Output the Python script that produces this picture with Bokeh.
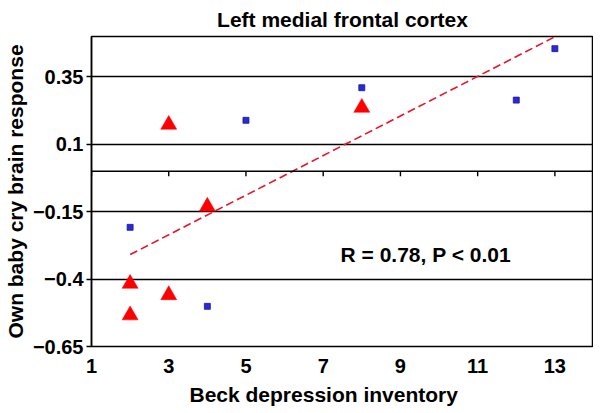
import numpy as np
from bokeh.plotting import figure
from bokeh.models import (Range1d, FixedTicker, Label, Title, Span,
                          CustomJSTickFormatter)
from bokeh.embed import file_html
from bokeh.resources import INLINE

# ---- data ----
title_text = "Left medial frontal cortex"
x_label = "Beck depression inventory"
y_label = "Own baby cry brain response"
stat_text = "R = 0.78, P < 0.01"

x_ticks = [1, 3, 5, 7, 9, 11, 13]
y_ticks = [-0.65, -0.4, -0.15, 0.1, 0.35]

tri_x = [3, 8, 4, 2, 3, 2]
tri_y = [0.173, 0.236, -0.131, -0.417, -0.459, -0.534]

sq_x = [2, 4, 5, 8, 12, 13]
sq_y = [-0.208, -0.501, 0.189, 0.310, 0.264, 0.455]

FONT = "Liberation Sans"
X0, X1 = 1, 14
Y0, Y1 = -0.65, 0.5
FRAME_W, FRAME_H = 502, 310

# ---- trend line (least squares over all points) ----
all_x = np.array(tri_x + sq_x, dtype=float)
all_y = np.array(tri_y + sq_y, dtype=float)
slope, intercept = np.polyfit(all_x, all_y, 1)
fit_x = np.array([all_x.min(), all_x.max()])
fit_y = slope * fit_x + intercept

p = figure(output_backend="svg", toolbar_location=None,
           x_range=Range1d(X0, X1), y_range=Range1d(Y0, Y1),
           frame_width=FRAME_W, frame_height=FRAME_H,
           min_border_left=0, min_border_right=0, min_border_top=0,
           min_border_bottom=0)
p.background_fill_color = "white"
p.border_fill_color = "white"
p.outline_line_color = "black"
p.outline_line_width = 1.5

# title
p.title.text = title_text
p.title.align = "center"
p.title.text_font = FONT
p.title.text_font_size = "21px"
p.title.text_font_style = "bold"
p.title.text_color = "black"
p.title.standoff = 11

# grid
p.xgrid.visible = False
p.ygrid.ticker = FixedTicker(ticks=y_ticks[1:])
p.ygrid.grid_line_color = "black"
p.ygrid.grid_line_width = 1.4

# y axis
yax = p.yaxis[0]
yax.ticker = FixedTicker(ticks=y_ticks)
yax.formatter = CustomJSTickFormatter(code="""
    const s = parseFloat(Math.abs(tick).toFixed(2)).toString();
    return tick < 0 ? "\u2212" + s : s;
""")
yax.axis_line_color = "black"
yax.axis_line_width = 1.5
yax.major_tick_out = 5
yax.major_tick_in = 0
yax.major_tick_line_color = "black"
yax.major_tick_line_width = 1.4
yax.minor_tick_line_color = None
yax.major_label_standoff = 3
yax.major_label_text_font = FONT
yax.major_label_text_font_size = "20px"
yax.major_label_text_font_style = "bold"
yax.major_label_text_color = "black"
yax.axis_label = y_label
yax.axis_label_text_font = FONT
yax.axis_label_text_font_size = "21px"
yax.axis_label_text_font_style = "bold"
yax.axis_label_text_color = "black"
yax.axis_label_standoff = 3

# x axis (labels only, at bottom)
xax = p.xaxis[0]
xax.ticker = FixedTicker(ticks=x_ticks)
xax.axis_line_color = None
xax.major_tick_line_color = None
xax.minor_tick_line_color = None
xax.major_tick_out = 0
xax.major_tick_in = 0
xax.major_label_standoff = 12
xax.major_label_text_font = FONT
xax.major_label_text_font_size = "20px"
xax.major_label_text_font_style = "bold"
xax.major_label_text_color = "black"

# zero line with tick marks hanging down (5 px converted to data units)
p.add_layout(Span(location=0, dimension="width", line_color="black",
                  line_width=1.5))
tick_len = 5 * (Y1 - Y0) / FRAME_H
p.segment(x0=x_ticks, y0=[0] * len(x_ticks), x1=x_ticks,
          y1=[-tick_len] * len(x_ticks), line_color="black", line_width=1.4)

# x axis label as a bottom title
xt = Title(text=x_label, align="left", offset=98, text_font=FONT,
           text_font_size="21px", text_font_style="bold", text_color="black",
           standoff=10)
p.add_layout(xt, "below")

# trend line
p.line(fit_x, fit_y, line_color="#e8142c", line_width=1.6, line_dash="8 4")

# markers
p.scatter(sq_x, sq_y, marker="square", size=6, fill_color="#2a2ad0",
          line_color="#1a1aa8", line_width=0.8)
p.scatter(tri_x, tri_y, marker="triangle", size=16, fill_color="#ff0000",
          line_color="#ff0000", line_width=0.5)

# stat label
p.add_layout(Label(x=7.45, y=-0.31, text=stat_text, text_font=FONT,
                   text_font_size="21px", text_font_style="bold",
                   text_color="black", text_baseline="alphabetic"))

open("out.html", "w").write(file_html(p, INLINE))
